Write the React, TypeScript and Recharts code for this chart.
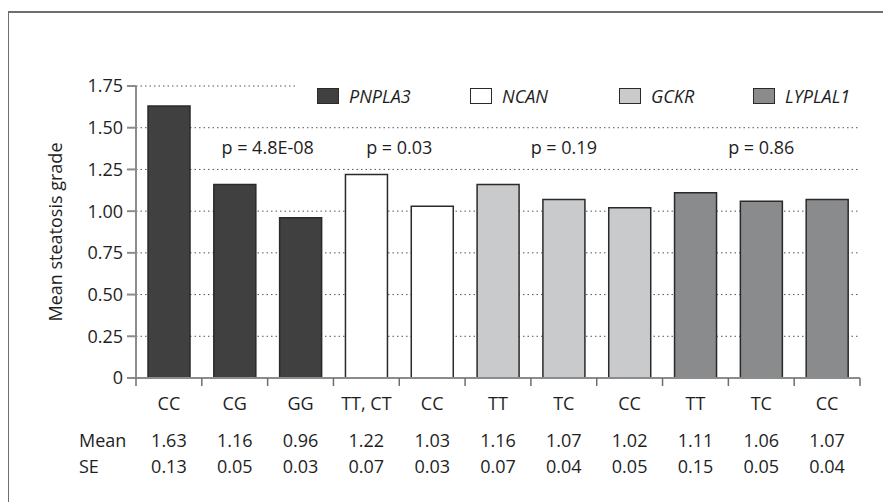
import { BarChart, Bar, Cell, XAxis, YAxis, CartesianGrid, Legend, ReferenceDot } from 'recharts';

const genotypes = ['CC', 'CG', 'GG', 'TT, CT', 'CC', 'TT', 'TC', 'CC', 'TT', 'TC', 'CC'];
const genes = ['PNPLA3', 'PNPLA3', 'PNPLA3', 'NCAN', 'NCAN', 'GCKR', 'GCKR', 'GCKR', 'LYPLAL1', 'LYPLAL1', 'LYPLAL1'];
const means = [1.63, 1.16, 0.96, 1.22, 1.03, 1.16, 1.07, 1.02, 1.11, 1.06, 1.07];
const ses = [0.13, 0.05, 0.03, 0.07, 0.03, 0.07, 0.04, 0.05, 0.15, 0.05, 0.04];

const geneNames = ['PNPLA3', 'NCAN', 'GCKR', 'LYPLAL1'];
const geneColors = ['#404040', '#ffffff', '#c9cacc', '#8a8b8d'];

const pLabels = ['p = 4.8E-08', 'p = 0.03', 'p = 0.19', 'p = 0.86'];
const pAnchors = [1, 3, 6, 9]; // bar index each p value sits over
const pLevel = 1.38;

const yTicks = [0, 0.25, 0.5, 0.75, 1, 1.25, 1.5, 1.75];

const data = genotypes.map((g, i) => ({
  id: `${genes[i]}-${g}`,
  genotype: g,
  gene: genes[i],
  mean: means[i],
  se: ses[i],
}));

// layout
const W = 883;
const H = 494;
const M = { top: 78, right: 31, left: 0, bottom: 0 };
const Y_W = 128;
const BAND = (W - M.right - Y_W) / genotypes.length;
const FONT = '"Open Sans", "Noto Sans", sans-serif';
const INK = '#1e1e1e';
const AXIS = '#8c8c8c';
const BAR_STROKE = '#2a2a2a';

const colorOf = (gene: string) => geneColors[geneNames.indexOf(gene)];

function GenotypeTick(props: any) {
  const { x, y, index } = props;
  const left = x - BAND / 2;
  const txt = { fontFamily: FONT, fontSize: 18, fill: INK };
  return (
    <g>
      <line x1={left} y1={y} x2={left} y2={y + 8} stroke="#6e6e6e" strokeWidth={1.5} />
      {index === genotypes.length - 1 && (
        <line x1={x + BAND / 2} y1={y} x2={x + BAND / 2} y2={y + 8} stroke="#6e6e6e" strokeWidth={1.5} />
      )}
      <text x={x} y={y + 32} textAnchor="middle" {...txt}>{genotypes[index]}</text>
      <text x={x} y={y + 69} textAnchor="middle" {...txt}>{means[index].toFixed(2)}</text>
      <text x={x} y={y + 95} textAnchor="middle" {...txt}>{ses[index].toFixed(2)}</text>
      {index === 0 && (
        <>
          <text x={71} y={y + 69} textAnchor="start" {...txt}>Mean</text>
          <text x={71} y={y + 95} textAnchor="start" {...txt}>SE</text>
        </>
      )}
    </g>
  );
}

const legendSlots = [19, 172, 321, 455];

function GeneLegend() {
  return (
    <div style={{ position: 'relative', width: '100%', height: '100%', background: '#fff' }}>
      {geneNames.map((name, i) => (
        <div
          key={name}
          style={{
            position: 'absolute',
            left: legendSlots[i],
            top: 0,
            height: 32,
            display: 'flex',
            alignItems: 'center',
            gap: 10,
          }}
        >
          <span
            style={{
              width: 20,
              height: 14,
              background: geneColors[i],
              border: `1.5px solid ${BAR_STROKE}`,
              display: 'inline-block',
            }}
          />
          <span style={{ fontFamily: FONT, fontStyle: 'italic', fontSize: 18, color: INK }}>{name}</span>
        </div>
      ))}
    </div>
  );
}

export default function App() {
  return (
    <div style={{ position: 'relative', width: W, height: H }}>
      <div
        style={{
          position: 'absolute',
          left: -1,
          top: 3,
          width: W + 20,
          height: H + 20,
          borderTop: '2px solid #6e6e6e',
          borderLeft: '2px solid #6e6e6e',
        }}
      />
      <BarChart width={W} height={H} data={data} margin={M} barSize={42}>
        <CartesianGrid vertical={false} stroke="#555" strokeDasharray="1.5 3" />
        <XAxis
          dataKey="id"
          interval={0}
          height={H - M.top - 292}
          tickLine={false}
          tickSize={0}
          tickMargin={0}
          axisLine={{ stroke: AXIS, strokeWidth: 2 }}
          tick={<GenotypeTick />}
        />
        <YAxis
          width={Y_W}
          domain={[0, 1.75]}
          ticks={yTicks}
          interval={0}
          tickSize={9}
          tickMargin={4}
          axisLine={{ stroke: AXIS, strokeWidth: 2 }}
          tickLine={{ stroke: AXIS, strokeWidth: 2 }}
          tick={{ fontFamily: FONT, fontSize: 18, fill: INK }}
          tickFormatter={(v: number) => (v === 0 ? '0' : v.toFixed(2))}
          label={{
            content: () => (
              <text
                x={47}
                y={224}
                transform="rotate(-90 47 224)"
                textAnchor="middle"
                dominantBaseline="central"
                fontFamily={FONT}
                fontSize={18}
                fill={INK}
              >
                Mean steatosis grade
              </text>
            ),
          }}
        />
        <Legend
          layout="horizontal"
          verticalAlign="middle"
          align="center"
          content={<GeneLegend />}
          wrapperStyle={{ left: 290, top: 72, width: 562, height: 32 }}
        />
        <Bar dataKey="mean" stroke={BAR_STROKE} strokeWidth={1.5} isAnimationActive={false}>
          {data.map((d) => (
            <Cell key={d.id} fill={colorOf(d.gene)} />
          ))}
        </Bar>
        {pLabels.map((p, i) => (
          <ReferenceDot
            key={p}
            x={data[pAnchors[i]].id}
            y={pLevel}
            r={0}
            fill="none"
            stroke="none"
            label={{
              value: p,
              position: 'center',
              dx: i < 2 ? BAND / 2 : 0,
              fontFamily: FONT,
              fontSize: 18,
              fill: INK,
            }}
          />
        ))}
      </BarChart>
    </div>
  );
}
